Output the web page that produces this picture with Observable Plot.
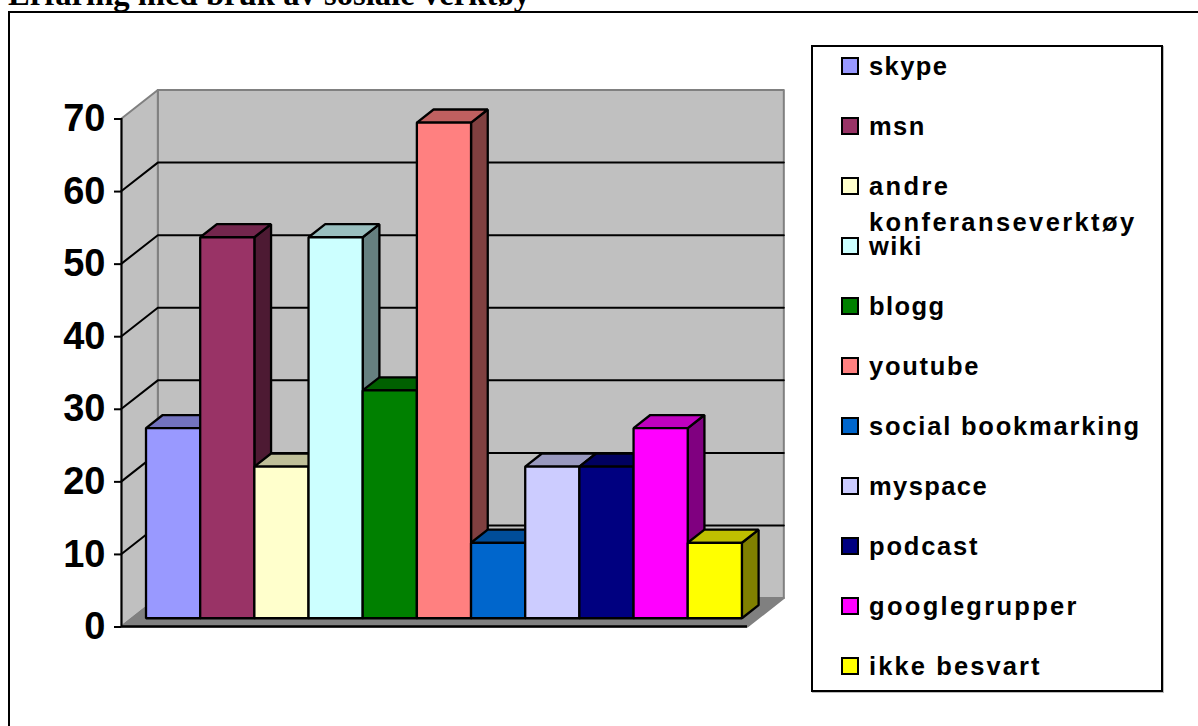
<!DOCTYPE html>
<html>
<head>
<meta charset="utf-8">
<script src="https://cdn.jsdelivr.net/npm/d3@7"></script>
<script src="https://cdn.jsdelivr.net/npm/@observablehq/plot@0.6"></script>
<style>
html,body{margin:0;padding:0;background:#fff;width:1198px;height:726px;overflow:hidden}
#page{position:relative;width:1198px;height:726px;overflow:hidden}
#chart svg{position:absolute;left:0;top:0;display:block}
h1{position:absolute;left:8px;top:-24px;margin:0;font:bold 32.7px/36px "Liberation Serif",serif;white-space:nowrap;color:#000}
#frame{position:absolute;left:8px;top:11px;width:1200px;height:730px;border:2px solid #000;box-sizing:border-box}
#legend{position:absolute;left:811px;top:45px;width:352px;height:647px;border:2px solid #000;box-sizing:border-box;background:#fff;box-shadow:1px 1px 0 #bbb}
.row{position:absolute;left:0;height:60px;font:bold 25.5px/30px "Liberation Sans",Arial,sans-serif;color:#000;letter-spacing:1.4px;white-space:nowrap}
.sw{position:absolute;left:28px;top:12px;width:18px;height:18px;border:2px solid #000;box-sizing:border-box}
.lb{position:absolute;left:56px;top:6px}
</style>
</head>
<body>
<div id="page">
  <div id="frame"></div>
  <h1>Erfaring med bruk av sosiale verktøy</h1>
  <div id="chart"></div>
  <div id="legend"></div>
</div>
<script>
const categories = ["skype","msn","andre konferanseverktøy","wiki","blogg","youtube","social bookmarking","myspace","podcast","googlegrupper","ikke besvart"];
const values = [26.2,52.5,20.9,52.5,31.4,68.3,10.4,20.9,20.9,26.2,10.4];
const colors = ["#9999FF","#993366","#FFFFCC","#CCFFFF","#008000","#FF8080","#0066CC","#CCCCFF","#000080","#FF00FF","#FFFF00"];
const yTicks = [0,10,20,30,40,50,60,70];

// 3D projection, in scale units (one bar = 1 x unit, y in axis values)
const floorW = 11.55, depthX = 0.67, depthY = 3.92, startX = 0.258;
const barFront = 0.29, barBack = 0.75, yMax = 70;
const px = (x, d) => x + d * depthX;
const py = (v, d) => v + d * depthY;

const shade = (c, k) => { const r = d3.rgb(c); return d3.rgb(r.r * k, r.g * k, r.b * k).formatHex(); };
const poly = (id, fill, pts) => pts.map(([x, v, d]) => ({id, fill, x: px(x, d), y: py(v, d)}));

const faces = categories.flatMap((name, i) => {
  const x0 = startX + i * 0.9995, x1 = x0 + 0.9995, v = values[i], c = colors[i], f = barFront, b = barBack;
  return [
    ...poly(name + "-side", shade(c, 0.5), [[x1,0,f],[x1,0,b],[x1,v,b],[x1,v,f]]),
    ...poly(name + "-top", shade(c, 0.75), [[x0,v,f],[x1,v,f],[x1,v,b],[x0,v,b]]),
    ...poly(name + "-front", c, [[x0,0,f],[x1,0,f],[x1,v,f],[x0,v,f]])
  ];
});

const walls = [
  ...poly("back", "#C0C0C0", [[0,0,1],[floorW,0,1],[floorW,yMax,1],[0,yMax,1]]),
  ...poly("side", "#C0C0C0", [[0,0,0],[0,0,1],[0,yMax,1],[0,yMax,0]]),
  ...poly("floor", "#808080", [[0,0,0],[floorW,0,0],[floorW,0,1],[0,0,1]])
];

const grid = yTicks.filter(v => v > 0 && v < yMax).flatMap(v =>
  [[0,v,0],[0,v,1],[floorW,v,1]].map(([x, w, d]) => ({v, x: px(x, d), y: py(w, d)})));

const chart = Plot.plot({
  width: 1198, height: 726,
  marginLeft: 121, marginRight: 451, marginTop: 118, marginBottom: 100,
  style: {background: "transparent", fontFamily: "'Liberation Sans',Arial,sans-serif", overflow: "visible"},
  x: {domain: [0, floorW], axis: null},
  y: {domain: [0, yMax], axis: null},
  marks: [
    Plot.line(walls, {x: "x", y: "y", z: "id", fill: {value: "fill", scale: null}, stroke: "#808080", strokeWidth: 2, curve: "linear-closed"}),
    Plot.line(grid, {x: "x", y: "y", z: "v", stroke: "#000", strokeWidth: 2}),
    Plot.ruleY([0], {stroke: "#000", strokeWidth: 2.5}),
    Plot.ruleX([0], {y1: 0, y2: yMax, stroke: "#000", strokeWidth: 2}),
    Plot.line(faces, {x: "x", y: "y", z: "id", fill: {value: "fill", scale: null}, stroke: "#000", strokeWidth: 2.3, strokeLinejoin: "miter", curve: "linear-closed"}),
    Plot.axisY({ticks: yTicks, tickFormat: d3.format("d"), tickSize: 7, tickPadding: 9, stroke: "#000", strokeWidth: 2, color: "#000", fontSize: 38, fontWeight: "bold", dy: 0.5, label: null})
  ]
});
document.getElementById("chart").append(chart);

const legend = d3.select("#legend");
const labelLines = {"andre konferanseverktøy": ["andre", "konferanseverktøy"]};
const extraTracking = {"andre konferanseverktøy": 1, "social bookmarking": 0.4, "googlegrupper": 0.9, "ikke besvart": 0.7, "youtube": 0.3, "podcast": 0.4};
const rows = legend.selectAll(".row").data(categories).join("div")
  .attr("class", "row")
  .style("top", (d, i) => (-2 + i * 60) + "px");
rows.append("div").attr("class", "sw").style("background", (d, i) => colors[i]);
rows.append("div").attr("class", "lb")
  .style("letter-spacing", d => (1.4 + (extraTracking[d] || 0)) + "px")
  .html(d => (labelLines[d] || [d]).join('<span style="display:block;height:6px"></span>'));
</script>
</body>
</html>
